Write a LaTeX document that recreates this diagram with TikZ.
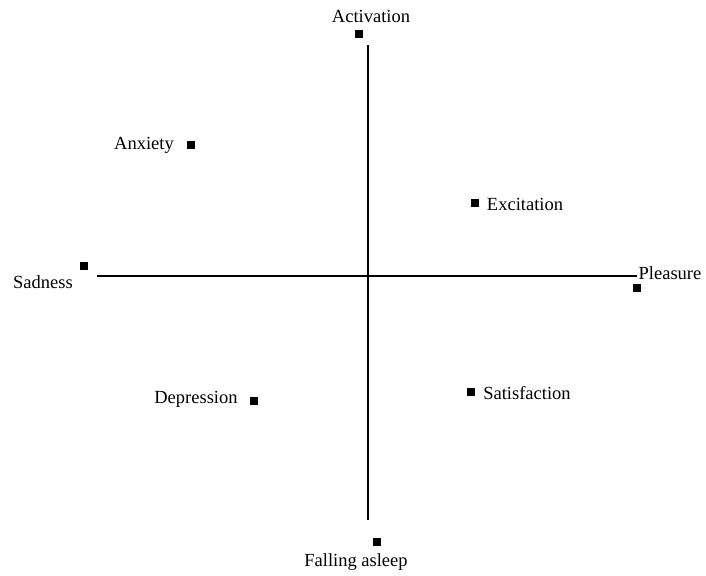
\documentclass[tikz,border=0pt]{standalone}
\usepackage{fontspec}
\setmainfont{Liberation Serif}
\begin{document}
\begin{tikzpicture}[x=1pt, y=-1pt,
  sqbox/.style={fill=black, inner sep=0pt, minimum size=8pt},
  emolabel/.style={inner sep=0pt, font=\fontsize{18.5}{22}\selectfont},
  axis/.style={line width=2pt}] % {{{
\useasboundingbox (0,0) rectangle (706,575);
% axes {{{
\coordinate (west) at (97,276);
\coordinate (east) at (637,276);
\coordinate (north) at (368,45);
\coordinate (south) at (368,520);
\draw[axis] (west) -- (east);
\draw[axis] (north) -- (south);
% }}}
% emotions: name / square / label {{{
\foreach \nm/\sx/\sy/\lx/\ly/\txt in {
    act/359/34/371/16/Activation,
    anx/191/145/144/145/Anxiety,
    exc/475/203/525/204/Excitation,
    sad/84/266/43/282/Sadness,
    ple/637/288/670/273/Pleasure,
    dep/254/401/196/399/Depression,
    sat/471/392/527/393/Satisfaction,
    fal/377/542/356/562/Falling asleep} {
  \node[sqbox] (sq-\nm) at (\sx,\sy) {};
  \node[emolabel] (lb-\nm) at (\lx,\ly) {\txt};
}
% }}}
\end{tikzpicture}
\end{document}
